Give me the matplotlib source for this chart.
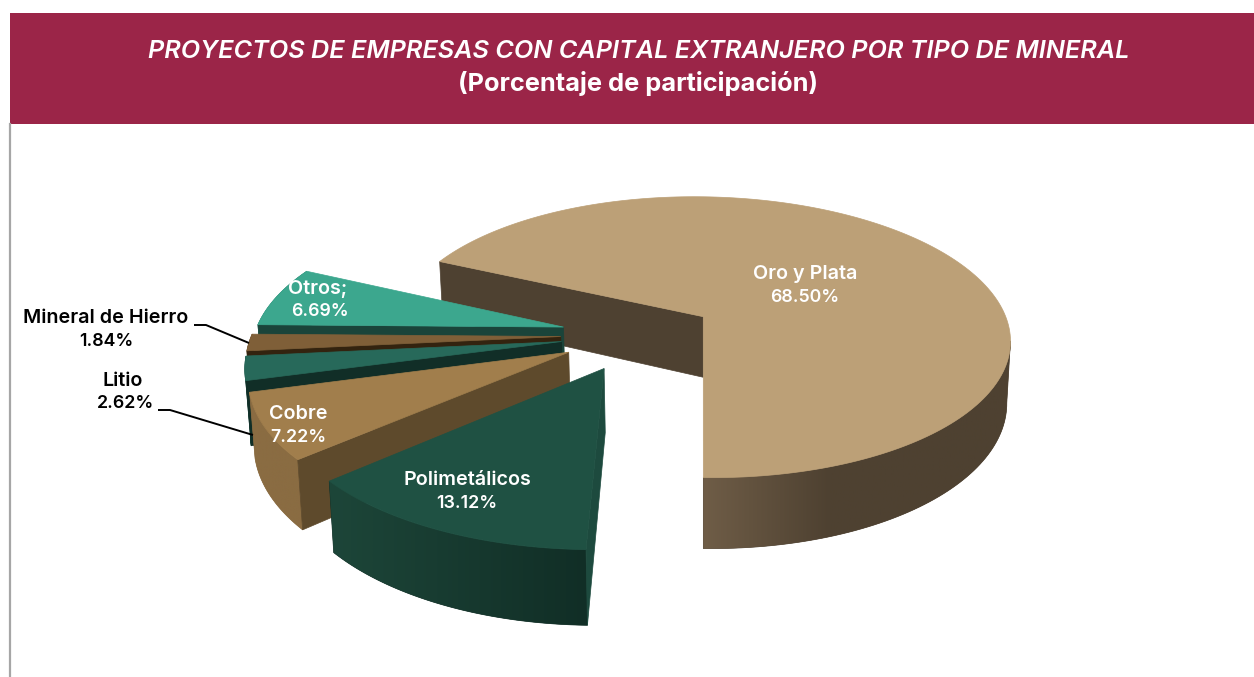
import numpy as np
import matplotlib
matplotlib.use('Agg')
import matplotlib.pyplot as plt
from matplotlib.colors import to_rgb
from matplotlib.patches import Polygon, Rectangle

# Data, in drawing order of the pie (clockwise)
names = ['Oro y Plata', 'Polimetálicos', 'Cobre', 'Litio', 'Mineral de Hierro', 'Otros;']
values = [68.50, 13.12, 7.22, 2.62, 1.84, 6.69]
title_line1 = 'PROYECTOS DE EMPRESAS CON CAPITAL EXTRANJERO POR TIPO DE MINERAL'
title_line2 = '(Porcentaje de participación)'

# Colours per slice: top, radial wall, side light, side dark
top_colors = ['#BCA077', '#1F5143', '#A17E4C', '#27695A', '#7F5F38', '#3CA78E']
wall_colors = ['#4E4131', '#1D4A3E', '#5E4A2C', '#112E27', '#33230F', '#1A443A']
side_light = ['#6F5D47', '#1D4639', '#8A6C42', '#1D4F44', '#6B4F2C', '#2D7F6C']
side_dark = ['#4E4131', '#112E26', '#8A6C42', '#1D4F44', '#6B4F2C', '#2D7F6C']
grad_span = [0.41, 1, 1, 1, 1, 1]
radius = [1, 1, 0.99, 0.99, 0.99, 0.99]

# Projection of the pie disc to pixels
cx, cy = 703, 317
rx, ry = 304, 137.5
persp = 0.146
shear = 0.03
depth = 60.6
shrink = 0.012
pie_center = (-0.208, 0.135)
explode = 0.25
first_angle = 180.0 - values[0] * 3.6

# Label anchors in pixels, one per slice: name line, percent line
name_xy = [(805, 274), (467, 480), (298, 414), (123, 381), (106, 318), (318, 289)]
pct_xy = [(805, 297), (467, 503), (298, 437), (126, 404), (106, 341), (320, 312)]
label_colors = ['white', 'white', 'white', 'black', 'black', 'white']


def project(u, v):
    w = 1 - persp * v
    x = cx + rx * u / w
    y = cy + ry * (v + shear * u) / w
    # rim of the base: lower and slightly narrower
    return x, y, cx + (x - cx) * (1 - shrink), y + depth / w


fig = plt.figure(figsize=(12.54, 6.77), dpi=100)
ax = fig.add_axes([0, 0, 1, 1])
ax.axis('off')

ax.add_patch(Rectangle((10, 13), 1244, 111, color='#9B2548', lw=0))
ax.plot([10, 10], [124, 677], color='#A6A6A6', lw=1.6)

starts = first_angle + np.cumsum([0] + [v * 3.6 for v in values[:-1]])

# Back to front: Oro first, then the small ones from the top down
z = 3
for i in [0, 5, 4, 3, 2, 1]:
    start = starts[i]
    end = start + values[i] * 3.6
    mid = np.radians((start + end) / 2)
    u0 = pie_center[0] + explode * np.sin(mid)
    v0 = pie_center[1] - explode * np.cos(mid)
    ang = np.radians(np.linspace(start, end, 200))
    xs, ys, bx, by = project(u0 + radius[i] * np.sin(ang), v0 - radius[i] * np.cos(ang))
    ax0, ay0, abx, aby = project(u0, v0)

    # outer side, shaded from left to right; Oro only from its right extreme on
    f = int(np.argmax(xs)) if i == 0 else 0
    outline = list(zip(xs[f:], ys[f:])) + list(zip(bx[f:][::-1], by[f:][::-1]))
    base = Polygon(outline, closed=True, fc=side_dark[i], ec=side_dark[i], lw=0.5, zorder=z)
    ax.add_patch(base)
    x0, x1 = min(xs.min(), bx.min()), max(xs.max(), bx.max())
    if i == 0:
        x0 = cx
    t = np.clip(np.linspace(0, 1, 256) / grad_span[i], 0, 1)[None, :, None]
    grad = np.array(to_rgb(side_light[i])) * (1 - t) + np.array(to_rgb(side_dark[i])) * t
    im = ax.imshow(grad, extent=[x0, x1, by.max() + 1, min(ys.min(), by.min()) - 1],
                   aspect='auto', zorder=z + 0.1)
    im.set_clip_path(base)

    # radial wall on the start edge
    wall = [(ax0, ay0), (xs[0], ys[0]), (bx[0], by[0]), (abx, aby)]
    ax.add_patch(Polygon(wall, closed=True, fc=wall_colors[i], ec=wall_colors[i], lw=0.5, zorder=z + 0.2))

    # top face
    top = [(ax0, ay0)] + list(zip(xs, ys))
    ax.add_patch(Polygon(top, closed=True, fc=top_colors[i], ec=top_colors[i], lw=0.5, zorder=z + 0.3))
    z += 1

# Leader lines for the two outside labels
ax.plot([194, 206, 249], [325, 325, 343], color='black', lw=1.4, solid_capstyle='butt', zorder=20)
ax.plot([158, 170, 253], [410, 410, 435], color='black', lw=1.4, solid_capstyle='butt', zorder=20)

font = ['Inter', 'DejaVu Sans']
ax.text(638.5, 52, title_line1, color='white', fontsize=18.2, style='italic', weight='semibold',
        family=font, ha='center', va='center', zorder=20)
ax.text(638, 84, title_line2, color='white', fontsize=18.3, weight='bold',
        family=font, ha='center', va='center', zorder=20)

for i, name in enumerate(names):
    ax.text(name_xy[i][0], name_xy[i][1], name, color=label_colors[i],
            fontsize=14.2, weight='semibold', family=font, ha='center', va='center', zorder=20)
    ax.text(pct_xy[i][0], pct_xy[i][1], f'{values[i]:.2f}%', color=label_colors[i],
            fontsize=12.8, weight='semibold', family=font, ha='center', va='center', zorder=20)

ax.set_xlim(0, 1254)
ax.set_ylim(677, 0)
fig.savefig('out.png', dpi=100)
